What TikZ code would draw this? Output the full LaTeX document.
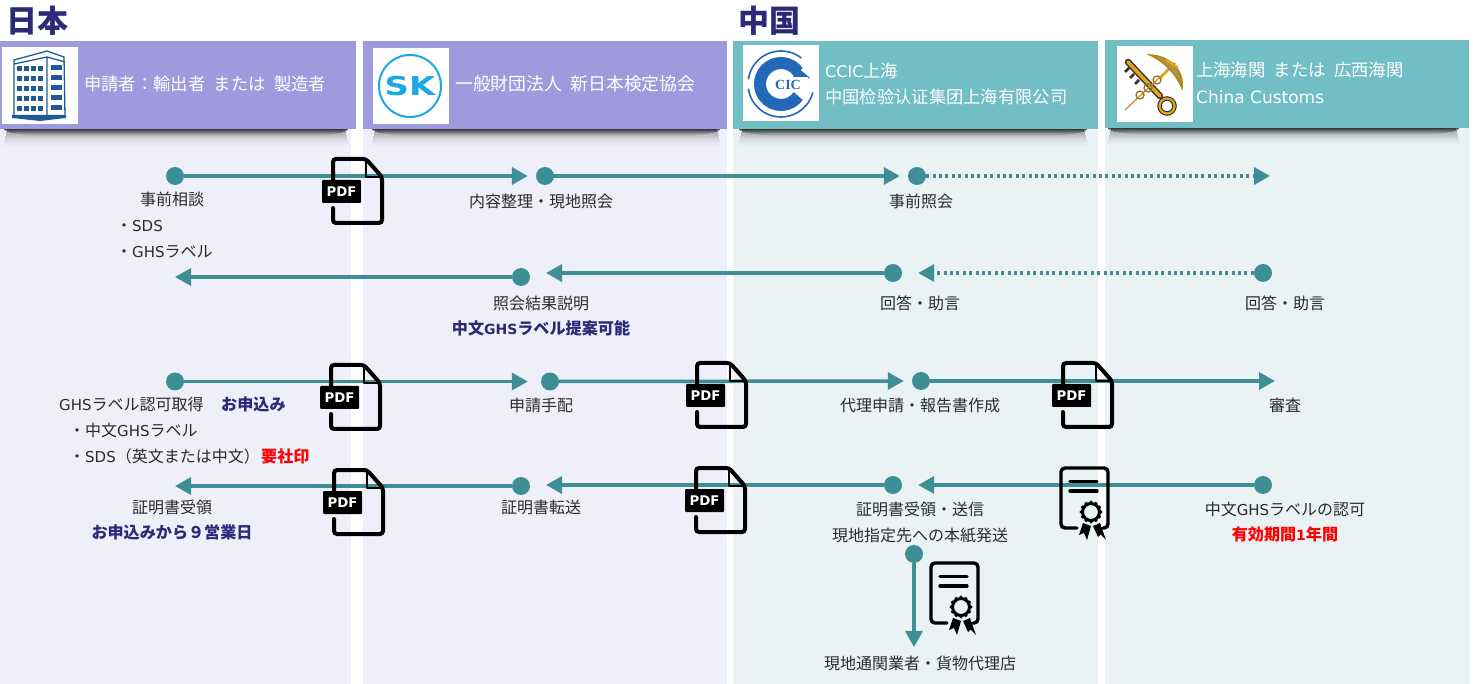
\documentclass[tikz,border=0pt]{standalone}
\usepackage{fontspec}
\setmainfont{Noto Sans CJK JP}
\newfontfamily\lat{DejaVu Sans}
\newfontfamily\scfont{Noto Sans CJK SC}
\newfontfamily\headfont[WordSpace=2.2]{Noto Sans CJK JP}
\newfontfamily\serifl{Liberation Serif}
\usetikzlibrary{arrows.meta}
\definecolor{panelJ}{HTML}{EFEFF9}
\definecolor{panelC}{HTML}{EAF2F4}
\definecolor{headJ}{HTML}{9E9ADD}
\definecolor{headC}{HTML}{72BEC5}
\definecolor{flowc}{HTML}{3E8E95}
\definecolor{navy}{HTML}{2A2A78}
\definecolor{txt}{HTML}{2B2B2B}
\definecolor{bld}{HTML}{1F5A96}
\definecolor{skc}{HTML}{1CA8E3}
\definecolor{cicc}{HTML}{2468B8}
\definecolor{gold}{HTML}{E0A51C}
\newcommand{\Lt}[1]{{\lat\fontsize{15}{18}\selectfont #1}}
\newcommand{\Lb}[1]{{\lat\bfseries\fontsize{14}{18}\selectfont #1}}
\newcommand{\Lh}[2]{{\lat\fontsize{#1}{18}\selectfont #2}}
\newcommand{\shadowbar}[3]{%
  \foreach \i in {0,...,18}{%
    \pgfmathsetmacro{\op}{0.42*(1-\i/19)^2}%
    \pgfmathsetmacro{\ins}{max(0,4-\i*0.25)}%
    \fill[black,opacity=\op] (#1+\ins,#3+\i) rectangle (#2-\ins,#3+\i+1.15);
  }%
  \foreach \i in {0,...,6}{%
    \pgfmathsetmacro{\op}{0.6*(1-\i/7)^1.4}%
    \pgfmathsetmacro{\ins}{1+\i*\i*0.7}%
    \fill[black,opacity=\op] (#1+\ins,#3+\i) rectangle (#2-\ins,#3+\i+1.15);
  }}
\tikzset{
  x=1pt,y=-1pt,
  lbl/.style={inner sep=0pt,text=txt,font=\fontsize{16}{18}\selectfont,text height=14pt,text depth=1pt},
  lblw/.style={lbl,anchor=west},
  blue/.style={lbl,text=navy,font=\fontsize{16.1}{18}\selectfont\bfseries},
  redt/.style={lbl,text=red,font=\fontsize{16.1}{18}\selectfont\bfseries},
  head/.style={inner sep=0pt,anchor=west,text=white,font=\headfont\fontsize{17.3}{20}\selectfont,text height=15pt,text depth=1pt},
  title/.style={inner sep=0pt,anchor=west,text=navy,font=\fontsize{31}{32}\selectfont\bfseries},
  dotn/.style={circle,fill=flowc,inner sep=0pt,minimum size=18pt},
  flow/.style={draw=flowc,line width=3.5pt,-{Triangle[length=16pt,width=17pt]}},
  flowd/.style={flow,dash pattern=on 3pt off 3.4pt},
  pdficon/.pic={
    \draw[line width=4pt,rounded corners=3pt,line cap=round] (0,21)--(0,0)--(33,0)--(49,18)--(49,64)--(0,64)--(0,49);
    \draw[line width=2.5pt,line join=round] (33,1)--(33,18)--(48,18);
    \fill[black,rounded corners=1pt] (-11,21) rectangle (28,44);
    \node[inner sep=0pt,text=white,font=\lat\fontsize{13.3}{14}\selectfont\bfseries] (-lab) at (8.5,32.5) {PDF};
  },
  certicon/.pic={
    \draw[line width=3.4pt,rounded corners=4pt,line cap=round] (16,60)--(0,60)--(0,0)--(47,0)--(47,60)--(44,60);
    \draw[line width=3.2pt,line cap=round] (9,13.5)--(36,13.5) (9,23)--(36,23);
    \draw[line width=3pt] (30,44) circle (8.5pt);
    \foreach \a in {0,30,...,330}{\fill (30,44)++(\a:-9.8pt) circle (1.8pt);}
    \fill (22,55)--(18,67)--(23,65)--(26,72)--(30,58)--cycle;
    \fill (32,58)--(37,69)--(39.5,66.5)--(45,72)--(39,55)--cycle;
  },
}
\begin{document}
\begin{tikzpicture}
\useasboundingbox (0,0) rectangle (1473,684);
\fill[white] (0,0) rectangle (1473,684);
% columns
\fill[panelJ] (0,128) rectangle (351,684);
\fill[panelJ] (363,128) rectangle (727,684);
\fill[panelC] (733,128) rectangle (1098,684);
\fill[panelC] (1105,128) rectangle (1470,684);
% shadows
\shadowbar{3}{349}{129}
\shadowbar{371}{721}{129}
\shadowbar{738}{1088}{129}
\shadowbar{1107}{1460}{128}
% headers
\fill[headJ] (0,41) rectangle (356,129);
\fill[headJ] (363,41) rectangle (727,129);
\fill[headC] (733,41) rectangle (1098,129);
\fill[headC] (1105,40) rectangle (1469,128);
% logos
\fill[white] (2,47) rectangle (78,124);
\fill[white] (373,48) rectangle (449,124);
\fill[white] (743,45) rectangle (819,121);
\fill[white] (1117,46) rectangle (1193,122);
% building
\begin{scope}
\draw[bld,line width=1.3pt,fill=white] (14,60)--(47,51)--(64,57)--(65,116)--(14,116)--cycle;
\draw[bld,line width=1.3pt] (14,64)--(47,57)--(65,62) (47,57)--(47,116);
\foreach \r in {0,...,4}{
  \foreach \c in {0,...,3}{\fill[bld] (17+\c*7,66+\r*10) rectangle ++(4.6,5.4);}
  \fill[bld] (51,65+\r*10) rectangle ++(11,5);
}
\fill[bld] (12,115)--(66,115)--(66,118)--(40,121)--(12,118)--cycle;
\end{scope}
% SK logo
\draw[skc,line width=2pt] (410,86) circle (31pt);
\node[inner sep=0pt,text=skc,font=\lat\bfseries\fontsize{26}{26}\selectfont] (sk) at (410,86) {\scalebox{1.3}[1]{SK}};
% CCIC logo
\draw[cicc,line width=1.6pt] (781,84) ++(52:33pt) arc (52:172:33pt);
\draw[cicc,line width=1.6pt] (781,84) ++(188:33pt) arc (188:345:33pt);
\draw[cicc,line width=12pt] (781,84) ++(35:21pt) arc (35:325:21pt);
\fill[cicc] (796,66)--(810,78)--(792,82)--cycle;
\fill[white] (769,77) rectangle (808,92);
\node[inner sep=0pt,text=cicc,font=\serifl\bfseries\fontsize{14}{14}\selectfont] (cic) at (788,84.5) {CIC};
% customs logo
\draw[black!80,line width=6.5pt,line cap=round] (1128,62)--(1160,96);
\draw[gold,line width=3.6pt,line cap=round] (1128,62)--(1160,96);
\draw[black!80,line width=2.5pt] (1125,72)--(1129,68) (1130,78)--(1134,74) (1135,84)--(1139,80);
\draw[black!80,line width=4.5pt] (1167,106) circle (7.5pt);
\draw[gold,line width=2.2pt] (1167,106) circle (7.5pt);
\draw[brown!70!gold,line width=1.2pt] (1125,110)--(1175,63);
\draw[gold,line width=2.5pt] (1175,63)--(1160,78);
\draw[gold!70!black,line width=1.3pt] (1140,95) circle (4pt) (1148,88) circle (4pt) (1157,80) circle (4pt);
\draw[gold!80!black,line width=1.5pt,fill=gold!50!gray] (1150,55)..controls (1170,56) and (1184,70)..(1182,88)..controls (1176,74) and (1165,62)..cycle;
\draw[gold,line width=2.5pt] (1166,60)--(1178,68);
% section titles
\node[title] (tjp) at (6,20.5) {日本};
\node[title] (tcn) at (738,20.5) {中国};
% header texts
\node[head] (h1) at (84,84) {申請者：輸出者 または 製造者};
\node[head,font=\headfont\fontsize{17.8}{20}\selectfont] (h2) at (455,84) {一般財団法人 新日本検定協会};
\node[head] (h3a) at (825,71) {\Lh{16}{CCIC}上海};
\node[head] (h3b) at (825,97) {\scfont 中国检验认证集团上海有限公司};
\node[head] (h4a) at (1196,70) {上海海関 または 広西海関};
\node[head] (h4b) at (1196,97) {\Lh{17}{China Customs}};
% dots
\node[dotn] (a1) at (175,176) {};
\node[dotn] (a2) at (545,176) {};
\node[dotn] (a3) at (917,176) {};
\coordinate (a4) at (1270,176);
\node[dotn] (b1) at (521,277) {};
\coordinate (b0) at (175,277);
\node[dotn] (b2) at (893,273) {};
\coordinate (b1t) at (546,273);
\node[dotn] (b3) at (1263,273) {};
\node[dotn] (c1) at (175,381.5) {};
\node[dotn] (c2) at (550,381.5) {};
\node[dotn] (c3) at (921,381) {};
\coordinate (c4) at (1275,381);
\node[dotn] (d1) at (521,486) {};
\coordinate (d0) at (175,486);
\node[dotn] (d2) at (893,485) {};
\coordinate (d1t) at (546,485);
\node[dotn] (d3) at (1263,485) {};
\node[dotn] (e1) at (914,554) {};
\coordinate (e2) at (914,647);
% connectors
\draw[flow,shorten >=8pt] (a1)--(a2);
\draw[flow,shorten >=8pt] (a2)--(a3);
\draw[flowd] (a3)--(a4);
\draw[flow] (b1)--(b0);
\draw[flow] (b2)--(b1t);
\draw[flowd,shorten >=16pt] (b3)--(b2);
\draw[flow,shorten >=13pt] (c1)--(c2);
\draw[flow,shorten >=8pt] (c2)--(c3);
\draw[flow] (c3)--(c4);
\draw[flow] (d1)--(d0);
\draw[flow] (d2)--(d1t);
\draw[flow,shorten >=16pt] (d3)--(d2);
\draw[flow] (e1)--(e2);
% icons
\pic (p1) at (333,159) {pdficon};
\pic (p2) at (331,365) {pdficon};
\pic (p3) at (697,363) {pdficon};
\pic (p4) at (1063,363) {pdficon};
\pic (p5) at (334,470) {pdficon};
\pic (p6) at (696,468) {pdficon};
\pic (q1) at (1061,468) {certicon};
\pic (q2) at (931,563) {certicon};
% labels
\node[lbl] (t1) at (172,199) {事前相談};
\node[lblw] (t2) at (116,225) {・\Lt{SDS}};
\node[lblw] (t3) at (116,251) {・\Lt{GHS}ラベル};
\node[lbl] (t4) at (541,201) {内容整理・現地照会};
\node[lbl] (t5) at (921,201) {事前照会};
\node[lbl] (t6) at (541,303) {照会結果説明};
\node[blue] (t7) at (541,328) {中文\Lb{GHS}ラベル提案可能};
\node[lbl] (t8) at (920,303) {回答・助言};
\node[lbl] (t9) at (1285,303) {回答・助言};
\node[lblw] (t10) at (59,404) {\Lt{GHS}ラベル認可取得};
\node[blue,anchor=west] (t11) at (221,404) {お申込み};
\node[lblw] (t12) at (69,430) {・中文\Lt{GHS}ラベル};
\node[lblw] (t13) at (69,456) {・\Lt{SDS}（英文または中文）};
\node[redt,anchor=west] (t14) at (261,456) {要社印};
\node[lbl] (t15) at (541,405) {申請手配};
\node[lbl] (t16) at (920,405) {代理申請・報告書作成};
\node[lbl] (t17) at (1285,405) {審査};
\node[lbl] (t18) at (172,507) {証明書受領};
\node[blue] (t19) at (172,532) {お申込みから９営業日};
\node[lbl] (t20) at (541,507) {証明書転送};
\node[lbl] (t21) at (920,509) {証明書受領・送信};
\node[lbl] (t22) at (920,535) {現地指定先への本紙発送};
\node[lbl] (t23) at (1285,509) {中文\Lt{GHS}ラベルの認可};
\node[redt] (t24) at (1285,534) {有効期間\Lb{1}年間};
\node[lbl] (t25) at (920,663) {現地通関業者・貨物代理店};
\end{tikzpicture}
\end{document}
